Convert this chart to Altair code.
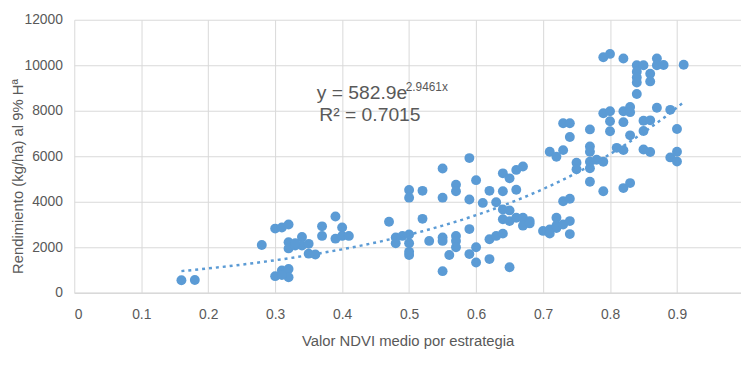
import altair as alt
import pandas as pd

# NDVI (x) and yield (y)
ndvi = [
    0.16, 0.18, 0.28,
    0.30, 0.31, 0.32, 0.32, 0.32, 0.33, 0.34, 0.34, 0.35, 0.35, 0.36, 0.33,
    0.30, 0.31, 0.32, 0.32, 0.31,
    0.37, 0.37, 0.39, 0.39, 0.40, 0.40, 0.41,
    0.47, 0.48, 0.48, 0.49, 0.50, 0.50, 0.50, 0.50, 0.50, 0.50, 0.52, 0.52, 0.53,
    0.55, 0.55, 0.55, 0.55, 0.55,
    0.56, 0.57, 0.57, 0.57, 0.57, 0.57,
    0.59, 0.59, 0.59, 0.59,
    0.60, 0.60, 0.60,
    0.61, 0.62, 0.62, 0.62,
    0.63, 0.63,
    0.64, 0.64, 0.64, 0.64, 0.64,
    0.65, 0.65, 0.65, 0.65,
    0.66, 0.66, 0.66,
    0.67, 0.67, 0.67,
    0.68, 0.68,
    0.70, 0.71, 0.71, 0.72, 0.72, 0.72, 0.73, 0.74, 0.74,
    0.71, 0.72, 0.73, 0.73, 0.74,
    0.73, 0.74, 0.74,
    0.75, 0.75,
    0.77, 0.77, 0.77, 0.77, 0.77, 0.77,
    0.78, 0.79, 0.79, 0.79, 0.79,
    0.80, 0.80, 0.80, 0.80,
    0.81,
    0.82, 0.82, 0.82, 0.82, 0.82,
    0.83, 0.83, 0.83, 0.83,
    0.84, 0.84, 0.84, 0.84, 0.84,
    0.85, 0.85, 0.85, 0.85,
    0.86, 0.86, 0.86, 0.86,
    0.87, 0.87, 0.87,
    0.88,
    0.89, 0.89,
    0.90, 0.90, 0.90,
    0.91,
]
rendimiento = [
    550, 560, 2100,
    2820, 2870, 3000, 2220, 1950, 2080, 2450, 2080, 2150, 1720, 1680, 2180,
    730, 980, 1050, 680, 780,
    2920, 2500, 3350, 2380, 2870, 2500, 2500,
    3120, 2430, 2180, 2500, 2560, 2180, 1660, 1800, 4520, 4180, 4480, 3250, 2280,
    2430, 2280, 5460, 4180, 950,
    1660, 4750, 4460, 2500, 2280, 2000,
    5920, 4100, 2800, 1700,
    4950, 2000, 1330,
    3950, 4480, 2350, 1480,
    3980, 2500,
    5250, 4460, 3660, 3230, 2600,
    5030, 3620, 3150, 1120,
    5400, 4530, 3300,
    5550, 3300, 2950,
    3150, 3050,
    2720, 2780, 2600, 2850, 3300, 2950, 3000, 3150, 2580,
    6200, 5980, 6270, 4020, 4130,
    7450, 7450, 6850,
    5720, 5430,
    7180, 6430, 6200, 5760, 5470, 4880,
    5850, 5760, 4460, 7890, 10350,
    10500, 7980, 7540, 7100,
    6370,
    10300, 7980, 7500, 6270, 4600,
    8170, 7940, 6920, 4820,
    10000, 9720, 9460, 9240, 8740,
    10000, 7560, 7110, 6300,
    9630, 9290, 7580, 6190,
    10300, 10000, 8130,
    10010,
    8040, 5950,
    7200, 6200, 5770,
    10020,
]

x_ticks = [0, 0.1, 0.2, 0.3, 0.4, 0.5, 0.6, 0.7, 0.8, 0.9]
y_ticks = [0, 2000, 4000, 6000, 8000, 10000, 12000]

eq_main = ["y = 582.9e"]
eq_exp = ["2.9461x"]
eq_r2 = ["R² = 0.7015"]

df = pd.DataFrame({"ndvi": ndvi, "rend": rendimiento})

BLUE = "#5B9BD5"
TXT = "#595959"
GRID = "#d9d9d9"
FONT = "Liberation Sans"
X_MAX = 0.9956

x_scale = alt.Scale(domain=[0, X_MAX], nice=False, zero=True)
y_scale = alt.Scale(domain=[0, 12000], nice=False)

x_axis = alt.Axis(values=x_ticks, format="~g", title="Valor NDVI medio por estrategia",
                  labelPadding=15, titleY=53, titleBaseline="alphabetic")
y_axis = alt.Axis(values=y_ticks, format="d", title="Rendimiento (kg/ha) al 9% Hª",
                  labelPadding=12, titleX=-52, titleY=158, titleBaseline="alphabetic",
                  titleAngle=-90)

points = alt.Chart(df).mark_circle(size=100, color=BLUE, opacity=1).encode(
    x=alt.X("ndvi:Q", scale=x_scale, axis=x_axis),
    y=alt.Y("rend:Q", scale=y_scale, axis=y_axis),
)

# Excel-style exponential trend: least squares on ln(y), sampled as a curve
trend = alt.Chart(df).transform_calculate(
    lny="log(datum.rend)"
).transform_regression(
    "ndvi", "lny", method="poly", order=1, extent=[0.16, 0.91]
).transform_calculate(
    fit="exp(datum.lny)"
).mark_line(color=BLUE, strokeDash=[3, 4], strokeWidth=2.5).encode(
    x=alt.X("ndvi:Q", scale=x_scale),
    y=alt.Y("fit:Q", scale=y_scale),
)

ann = pd.DataFrame({
    "t": [eq_main[0], eq_exp[0], eq_r2[0]],
    "x": [0.362, 0.4949, 0.3659],
    "y": [8520, 8890, 7560],
    "s": [19.5, 12, 19.5],
})

def text_layer(i):
    return alt.Chart(ann.iloc[[i]]).mark_text(
        align="left", baseline="alphabetic", font=FONT, color=TXT,
        fontSize=float(ann["s"].iloc[i])
    ).encode(
        x=alt.X("x:Q", scale=x_scale),
        y=alt.Y("y:Q", scale=y_scale),
        text="t:N",
    )

chart = alt.layer(points, trend, text_layer(0), text_layer(1), text_layer(2)).properties(
    width=674, height=276,
    padding={"left": 67, "top": 10, "right": 0, "bottom": 60},
    autosize=alt.AutoSizeParams(type="none"),
    background="white",
).configure_axis(
    labelFont=FONT, labelFontSize=14, labelColor=TXT,
    titleFont=FONT, titleFontSize=15, titleColor=TXT, titleFontWeight="normal",
    gridColor=GRID, gridWidth=1, domain=False, ticks=False,
).configure_axisX(
    domain=True, domainColor=GRID, domainWidth=1.5,
).configure_view(stroke=None)

chart.save("out.html", embed_options={"renderer": "svg", "actions": False})
